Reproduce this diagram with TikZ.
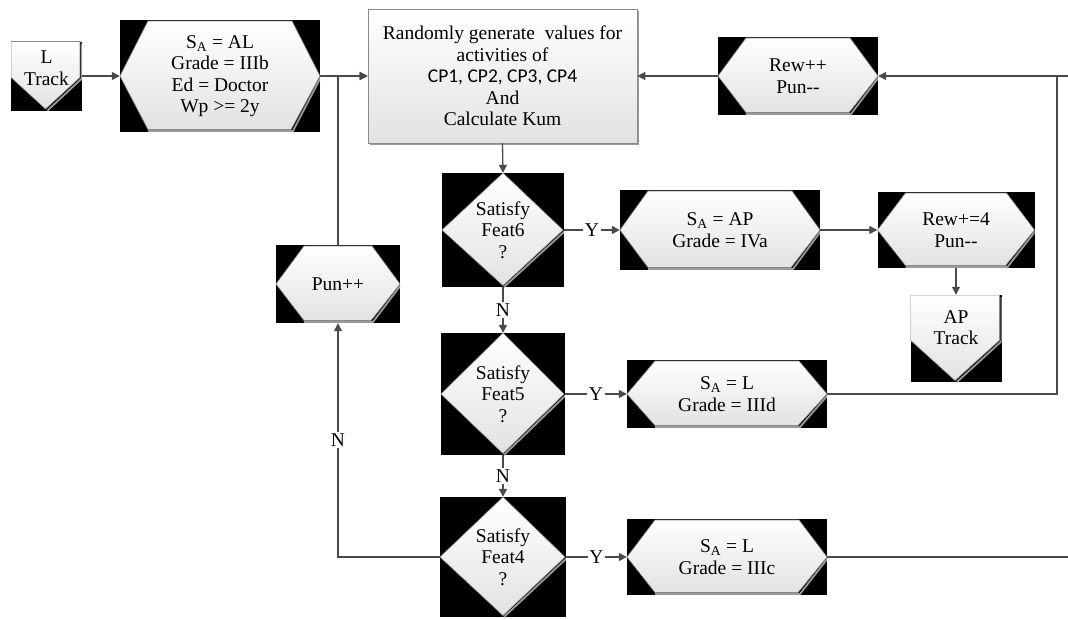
\documentclass[tikz,border=0pt]{standalone}
\usepackage{fontspec}
\setmainfont{Liberation Serif}
\newfontfamily\cpfont{Carlito}
\usetikzlibrary{arrows.meta,calc,shadows}
\definecolor{linec}{HTML}{4A4A4A}
\definecolor{shadeg}{HTML}{E2E2E2}
\definecolor{edgeg}{HTML}{8A8A8A}
\definecolor{bandg}{HTML}{9A9A9A}
\newcommand\fs{\fontsize{19.5}{21.5}\selectfont}
\newcommand\twoline[2]{\begin{tabular}{@{}c@{}}#1\\#2\end{tabular}}
\begin{document}
\begin{tikzpicture}[x=1pt,y=-1pt,
 conn/.style={draw=linec,line width=1.3pt},
 arr/.style={conn,-{Triangle[length=8pt,width=8pt]}},
 lbl/.style={fill=white,inner sep=1.5pt,font=\fs},
 base/.style={rectangle,fill=black,inner sep=0pt,align=center,font=\fs},
 hexnode/.style={base,path picture={
   \coordinate (W) at (path picture bounding box.west);
   \coordinate (E) at (path picture bounding box.east);
   \coordinate (NW) at (path picture bounding box.north west);
   \coordinate (NE) at (path picture bounding box.north east);
   \coordinate (SW) at (path picture bounding box.south west);
   \coordinate (SE) at (path picture bounding box.south east);
   \draw[bandg,line width=1.8pt] ($(E)+(1,1)$) -- ($(SE)+(-27,-1)$) -- ($(SW)+(28,-1)$);
   \path[draw=edgeg,line width=0.6pt,top color=white,bottom color=shadeg]
     (W) -- ($(NW)+(28,1)$) -- ($(NE)+(-28,1)$) -- (E) -- ($(SE)+(-29,-2.5)$) -- ($(SW)+(28,-2.5)$) -- cycle;
 }},
 dianode/.style={base,path picture={
   \coordinate (W) at (path picture bounding box.west);
   \coordinate (E) at (path picture bounding box.east);
   \coordinate (N) at (path picture bounding box.north);
   \coordinate (S) at (path picture bounding box.south);
   \draw[bandg,line width=1.8pt] ($(E)+(1,1)$) -- ($(S)+(1,0)$);
   \path[draw=edgeg,line width=0.6pt,top color=white,bottom color=shadeg]
     (N) -- ($(E)+(-1,0)$) -- ($(S)+(0,-1.5)$) -- (W) -- cycle;
 }},
 offnode/.style={base,path picture={
   \coordinate (NW) at (path picture bounding box.north west);
   \coordinate (NE) at (path picture bounding box.north east);
   \coordinate (SW) at (path picture bounding box.south west);
   \coordinate (SE) at (path picture bounding box.south east);
   \coordinate (S) at (path picture bounding box.south);
   \coordinate (RM) at ($(NE)!0.52!(SE)$);
   \coordinate (LM) at ($(NW)!0.52!(SW)$);
   \draw[bandg,line width=1.8pt] ($(NE)+(0,2)$) -- ($(RM)+(0,1)$) -- ($(S)+(1,0)$);
   \path[draw=edgeg,line width=0.6pt,top color=white,bottom color=shadeg]
     (NW) -- ($(NE)+(-2,0)$) -- ($(RM)+(-2,0)$) -- ($(S)+(-1,-1.5)$) -- (LM) -- cycle;
 }},
 procbox/.style={rectangle,draw=edgeg,line width=0.6pt,top color=white,bottom color=shadeg,
   inner sep=0pt,align=center,font=\fs,
   general shadow={fill=bandg,shadow xshift=2pt,shadow yshift=-2pt}},
]
\useasboundingbox (0,0) rectangle (1068,619);

% nodes
\node[offnode,minimum width=71,minimum height=69] (ltrack) at (46.5,76) {\raisebox{28pt}{\twoline{L}{Track}}};
\node[hexnode,minimum width=200,minimum height=112] (al) at (220,76)
  {S\textsubscript{A} = AL\\Grade = IIIb\\Ed = Doctor\\Wp >= 2y};
\node[procbox,minimum width=269,minimum height=134] (box) at (502.5,76)
  {Randomly generate\ \ values for\\activities of\\{\cpfont CP1, CP2, CP3, CP4}\\And\\Calculate Kum};
\node[hexnode,minimum width=160,minimum height=78] (rew) at (798,76) {Rew++\\Pun-{}-};
\node[dianode,minimum width=122,minimum height=114] (f6) at (503,230) {Satisfy\\Feat6\\?};
\node[hexnode,minimum width=200,minimum height=80] (ap) at (720,230) {S\textsubscript{A} = AP\\Grade = IVa};
\node[hexnode,minimum width=157,minimum height=76] (rewb) at (956,230) {Rew+=4\\Pun-{}-};
\node[offnode,minimum width=91,minimum height=87] (aptrack) at (956,338.5) {\raisebox{34pt}{\twoline{AP}{Track}}};
\node[hexnode,minimum width=124,minimum height=78] (pun) at (338,284) {Pun++};
\node[dianode,minimum width=124,minimum height=122] (f5) at (503,394) {Satisfy\\Feat5\\?};
\node[hexnode,minimum width=200,minimum height=68] (d) at (727,394) {S\textsubscript{A} = L\\Grade = IIId};
\node[dianode,minimum width=126,minimum height=120] (f4) at (503,557) {Satisfy\\Feat4\\?};
\node[hexnode,minimum width=200,minimum height=76] (c) at (727,557) {S\textsubscript{A} = L\\Grade = IIIc};

\coordinate (jr) at (1057,76);
\coordinate (er) at (1068,76);
\coordinate (ec) at (1068,557);

% connectors
\draw[arr] (ltrack.east) -- (al.west);
\draw[arr] (al.east) -- (box.west);
\draw[arr] (pun.north) |- (box.west);
\draw[arr] (rew.west) -- (box.east);
\draw[arr] (er) -- (rew.east);
\draw[conn] (d.east) -| (jr);
\draw[arr] (box.south) -- (f6.north);
\draw[arr] (f6.east) -- node[lbl] {Y} (ap.west);
\draw[arr] (ap.east) -- (rewb.west);
\draw[arr] (rewb.south) -- (aptrack.north);
\draw[arr] (f6.south) -- node[lbl] {N} (f5.north);
\draw[arr] (f5.east) -- node[lbl] {Y} (d.west);
\draw[arr] (f5.south) -- node[lbl] {N} (f4.north);
\draw[arr] (f4.east) -- node[lbl] {Y} (c.west);
\draw[arr] (f4.west) -| node[lbl,pos=0.75] {N} (pun.south);
\draw[conn] (c.east) -- (ec);
\end{tikzpicture}
\end{document}
